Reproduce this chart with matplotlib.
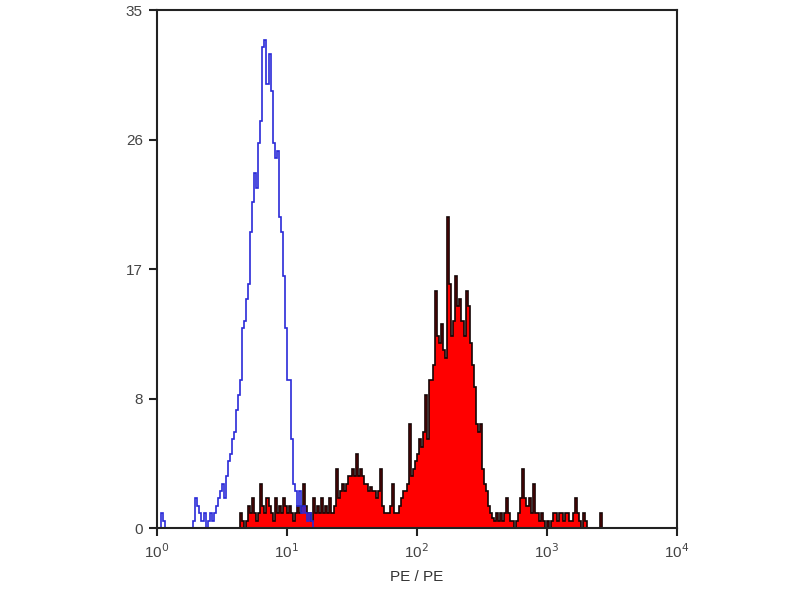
import numpy as np
import matplotlib
matplotlib.use('Agg')
import matplotlib.pyplot as plt

plt.rcParams['font.family'] = ['Liberation Sans', 'DejaVu Sans']

# channels: 64 per decade, 10^0 .. 10^4
n_ch = 256
per_decade = 64

# isotype control (blue outline), starting at channel 0
blue_start = 0
blue_counts = [0, 0, 1, 0.5, 0, 0, 0, 0, 0, 0, 0, 0, 0, 0, 0, 0, 0, 0,
               0.5, 2, 1.5, 1, 0.5, 1, 0, 0.5, 1, 0.5, 1, 1.5, 2, 2.5,
               3, 2, 3.5, 4.5, 5, 6, 6.5, 8, 9, 10, 13.5, 14, 15.5, 16.5,
               20, 22, 24, 23, 26, 27.5, 32.5, 33, 30, 32, 29.5, 26, 25,
               25.5, 21, 20, 17, 13.5, 10, 10, 6, 3, 2.5, 1.5, 2.5, 1,
               1.5, 1, 0.5, 1, 0.5]

# stained sample (red fill), starting at channel 41
red_start = 41
red_counts = [1, 0.5, 0, 0.5, 1.5, 1, 2, 1, 0.5, 1, 3, 1.5, 1, 2, 1.5,
              1, 0.5, 2, 1, 1.5, 1, 2, 1.5, 1, 1.5, 1, 0.5, 1, 1.5, 1,
              1.5, 3, 1.5, 1, 1, 0.5, 2, 1, 1.5, 1, 2, 1, 1.5, 1, 2, 1,
              1.5, 4, 2, 2.5, 3, 2.5, 3, 3.5, 3.5, 4, 3.5, 5, 3.5, 4,
              3.5, 3, 3, 2.5, 2.8, 2.5, 2.5, 2, 2.5, 4, 1.5, 1, 1, 1,
              1.5, 3, 1, 1, 1.5, 2, 2.5, 2.5, 3, 7, 3.5, 4, 4.5, 5, 6,
              5.5, 6.5, 9, 6, 10, 10, 11, 16, 13, 12.5, 13.8, 12, 11.5,
              21, 16.5, 13, 14, 17, 15, 15.5, 14, 13, 16, 15, 12.5, 11,
              9.5, 7, 6.5, 7, 4, 3, 2.5, 1.5, 1, 0.7, 0.5, 1, 0.5, 1,
              0.5, 1, 2, 1, 0.5, 0.5, 0, 0.5, 1, 2, 4, 2, 1.5, 2, 1, 3,
              1, 1, 0.5, 1, 0.5, 0, 0.5, 0, 0.5, 1, 1, 0.5, 1, 1, 0.5,
              1, 1, 0.5, 0.5, 1, 2, 1, 0.5, 0, 1, 0.5, 0, 0, 0, 0, 0, 0,
              1]

x_ticks = [1, 10, 100, 1000, 10000]
x_labels = ['10$^{0}$', '10$^{1}$', '10$^{2}$', '10$^{3}$', '10$^{4}$']
y_ticks = [0, 8.75, 17.5, 26.25, 35]
y_labels = ['0', '8', '17', '26', '35']

edges = 10 ** (np.arange(n_ch + 1) / per_decade)
blue = np.zeros(n_ch)
blue[blue_start:blue_start + len(blue_counts)] = blue_counts
red = np.zeros(n_ch)
red[red_start:red_start + len(red_counts)] = red_counts

fig = plt.figure(figsize=(8, 6), dpi=100)
ax = fig.add_axes([0.196, 0.12, 0.65, 0.8633])

ax.stairs(red, edges, fill=True, color='#ff0000', baseline=0)
ax.stairs(red, edges, color='#140505', linewidth=1.2, baseline=0)
ax.stairs(blue, edges, color='#2a2ad8', linewidth=1.2, baseline=None)

ax.set_xscale('log')
ax.set_xlim(1, 10000)
ax.set_ylim(0, 35)
ax.set_xticks(x_ticks)
ax.set_xticklabels(x_labels)
ax.xaxis.set_minor_locator(matplotlib.ticker.NullLocator())
ax.set_yticks(y_ticks)
ax.set_yticklabels(y_labels)

for s in ax.spines.values():
    s.set_linewidth(1.5)
    s.set_color('#222222')
ax.tick_params(direction='out', length=6, width=1.5, colors='#222222',
               labelcolor='#444444', labelsize=11, pad=4)
ax.set_xlabel('PE / PE', fontsize=11, color='#333333', labelpad=7)

plt.savefig('out.png', dpi=100)
